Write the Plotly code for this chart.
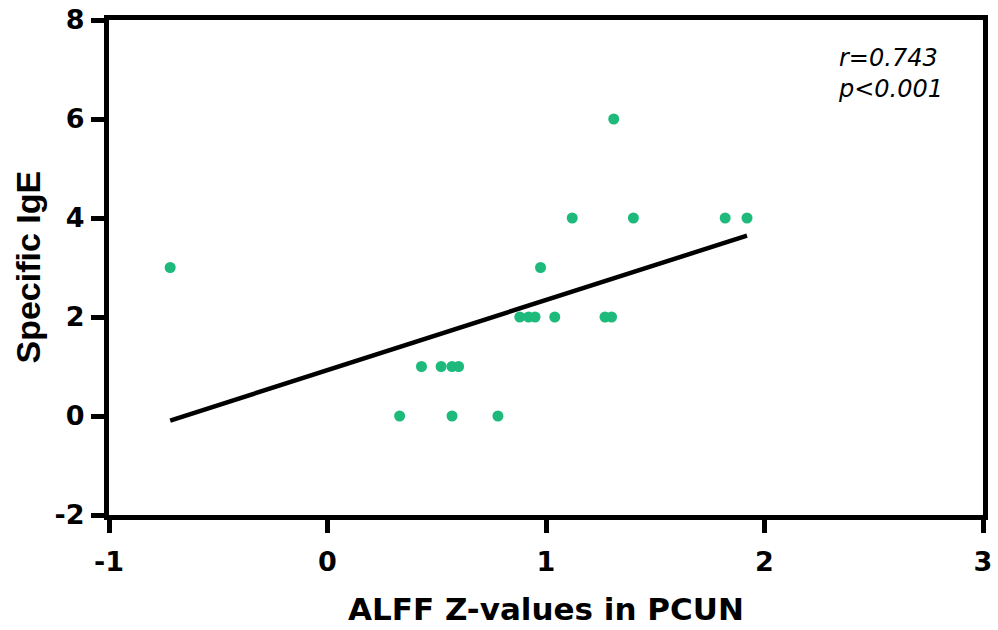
import numpy as np
import plotly.graph_objects as go

# Data
alff_z = [-0.72, 0.33, 0.43, 0.52, 0.57, 0.60, 0.57, 0.78, 0.88, 0.92,
          0.95, 0.975, 1.04, 1.12, 1.27, 1.30, 1.31, 1.40, 1.82, 1.92]
specific_ige = [3, 0, 1, 1, 1, 1, 0, 0, 2, 2,
                2, 3, 2, 4, 2, 2, 6, 4, 4, 4]
x_ticks = [-1, 0, 1, 2, 3]
y_ticks = [-2, 0, 2, 4, 6, 8]
stats_text = "r=0.743<br>p<0.001"

# Linear regression line over the data range
slope, intercept = np.polyfit(alff_z, specific_ige, 1)
fit_x = [min(alff_z), max(alff_z)]
fit_y = [slope * v + intercept for v in fit_x]

GREEN = "#1DBA7C"

fig = go.Figure()
fig.add_trace(go.Scatter(x=fit_x, y=fit_y, mode="lines",
                         line=dict(color="black", width=4.5), hoverinfo="skip"))
fig.add_trace(go.Scatter(x=alff_z, y=specific_ige, mode="markers",
                         marker=dict(color=GREEN, size=11, line=dict(width=0))))

tick_font = dict(family="DejaVu Sans", size=27, color="black", weight="bold")

fig.update_layout(
    width=998, height=630,
    paper_bgcolor="white", plot_bgcolor="white",
    showlegend=False,
    margin=dict(l=109, r=15, t=20, b=115, autoexpand=False),
    xaxis=dict(range=[-1, 3], tickvals=x_ticks, ticktext=[str(v) for v in x_ticks],
               showgrid=False, zeroline=False, automargin=False,
               showline=True, linecolor="black", linewidth=5, mirror=True,
               ticks="outside", ticklen=13, tickwidth=4.5, tickcolor="black",
               tickfont=tick_font, ticklabelstandoff=6, ticklabeloverflow="allow"),
    yaxis=dict(range=[-2, 8], tickvals=y_ticks, ticktext=[str(v) for v in y_ticks],
               showgrid=False, zeroline=False, automargin=False,
               showline=True, linecolor="black", linewidth=5, mirror=True,
               ticks="outside", ticklen=13, tickwidth=4.5, tickcolor="black",
               tickfont=tick_font, ticklabelstandoff=1, ticklabeloverflow="allow"),
    annotations=[
        dict(text="ALFF Z-values in PCUN", xref="paper", yref="paper",
             x=0.5, y=0, xanchor="center", yanchor="top", yshift=-74,
             showarrow=False,
             font=dict(family="DejaVu Sans", size=31, color="black", weight="bold")),
        dict(text="Specific IgE", xref="paper", yref="paper",
             x=0, y=0.5, xanchor="center", yanchor="middle", xshift=-82,
             textangle=-90, showarrow=False,
             font=dict(family="Liberation Sans, Arial", size=34, color="black", weight="bold")),
        dict(text=stats_text, xref="paper", yref="paper",
             x=0.832, y=0.955, xanchor="left", yanchor="top", align="left",
             showarrow=False,
             font=dict(family="DejaVu Sans", size=24, color="black", style="italic")),
    ],
)

# remove the browser's default 8px body margin so the figure fills the window
fig.write_html("out.html", config={"displayModeBar": False},
               post_script="document.body.style.margin='0';")
